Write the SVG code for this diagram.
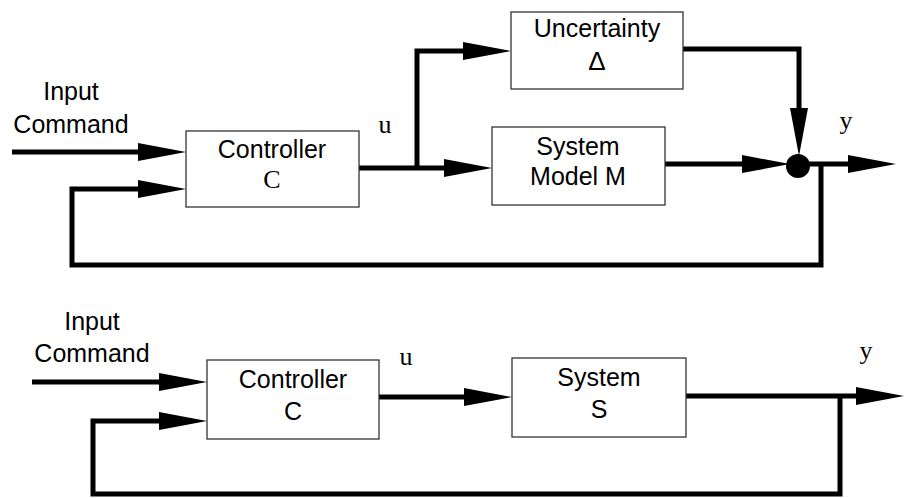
<svg xmlns="http://www.w3.org/2000/svg" width="906" height="498" viewBox="0 0 906 498">
  <style>
    .box { fill: #ffffff; stroke: #333333; stroke-width: 1.3; }
    .wire { fill: none; stroke: #000000; stroke-width: 5; stroke-linejoin: miter; stroke-linecap: butt; }
    .lbl { font-family: "Liberation Sans", Arial, sans-serif; font-size: 25px; fill: #000000; text-anchor: middle; }
    .sym { font-family: "Liberation Serif", "Times New Roman", serif; font-size: 26px; fill: #000000; text-anchor: middle; }
  </style>
  <defs>
    <!-- long narrow arrowhead, its base sits at the end of the wire -->
    <marker id="head" markerUnits="userSpaceOnUse" viewBox="0 -10 50 20" refX="0" refY="0" markerWidth="50" markerHeight="20" orient="auto">
      <path d="M0,-9 L48,0 L0,9 Z" fill="#000000"/>
    </marker>
  </defs>

  <rect width="906" height="498" fill="#ffffff"/>

  <!-- ===== Upper loop: controller with model uncertainty ===== -->
  <g id="connectors-top">
    <path class="wire" d="M12,152 H138" marker-end="url(#head)"/>
    <path class="wire" d="M359,168 H444" marker-end="url(#head)"/>
    <path class="wire" d="M417,168 V51 H463" marker-end="url(#head)"/>
    <path class="wire" d="M683,49 H799 V108" marker-end="url(#head)"/>
    <path class="wire" d="M665,164 H742" marker-end="url(#head)"/>
    <path class="wire" d="M806,164 H848" marker-end="url(#head)"/>
    <path class="wire" d="M821,164 V265 H72 V189 H138" marker-end="url(#head)"/>
  </g>

  <g id="input-top">
    <text class="lbl" x="71" y="100">Input</text>
    <text class="lbl" x="71" y="133">Command</text>
  </g>

  <g id="controller-top">
    <rect class="box" x="186" y="131" width="173" height="76"/>
    <text class="lbl" x="272" y="158">Controller</text>
    <text class="sym" x="272" y="188">C</text>
  </g>

  <g id="u-top">
    <text class="sym" x="385" y="133">u</text>
  </g>

  <g id="uncertainty">
    <rect class="box" x="511" y="12" width="172" height="77"/>
    <text class="lbl" x="597" y="37">Uncertainty</text>
    <text class="lbl" x="597" y="70" style="font-size:26px">Δ</text>
  </g>

  <g id="system-model">
    <rect class="box" x="492" y="127" width="173" height="78"/>
    <text class="lbl" x="578" y="155">System</text>
    <text class="lbl" x="578" y="185">Model M</text>
  </g>

  <g id="sum-junction">
    <circle cx="798" cy="166" r="12" fill="#000000"/>
  </g>

  <g id="y-top">
    <text class="sym" x="846" y="129">y</text>
  </g>

  <!-- ===== Lower loop: controller with nominal system ===== -->
  <g id="connectors-bottom">
    <path class="wire" d="M32,382 H159" marker-end="url(#head)"/>
    <path class="wire" d="M379,397 H464" marker-end="url(#head)"/>
    <path class="wire" d="M686,396 H856" marker-end="url(#head)"/>
    <path class="wire" d="M840,396 V494 H93 V421 H159" marker-end="url(#head)"/>
  </g>

  <g id="input-bottom">
    <text class="lbl" x="92" y="330">Input</text>
    <text class="lbl" x="92" y="362">Command</text>
  </g>

  <g id="controller-bottom">
    <rect class="box" x="207" y="360" width="172" height="79"/>
    <text class="lbl" x="293" y="388">Controller</text>
    <text class="lbl" x="293" y="420">C</text>
  </g>

  <g id="u-bottom">
    <text class="sym" x="406" y="365">u</text>
  </g>

  <g id="system">
    <rect class="box" x="512" y="358" width="174" height="79"/>
    <text class="lbl" x="599" y="386">System</text>
    <text class="lbl" x="599" y="418">S</text>
  </g>

  <g id="y-bottom">
    <text class="sym" x="866" y="359">y</text>
  </g>
</svg>
